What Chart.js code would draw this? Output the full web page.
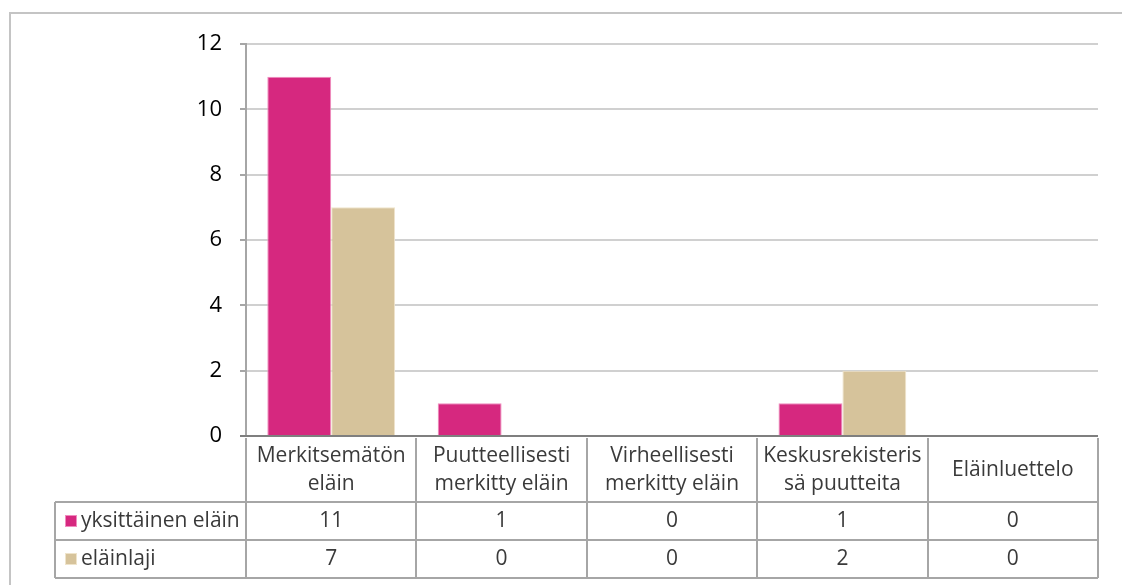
<!DOCTYPE html>
<html>
<head>
<meta charset="utf-8">
<script src="https://cdn.jsdelivr.net/npm/chart.js@4.4.0/dist/chart.umd.min.js"></script>
<style>
    html, body { margin: 0; padding: 0; background: #fff; overflow: hidden; }
    #wrap { position: relative; width: 1122px; height: 585px; overflow: hidden; }
    #frame {
        position: absolute; left: 9px; top: 12px; width: 1200px; height: 700px;
        border-left: 2px solid #c4c4c4; border-top: 2px solid #c4c4c4;
    }
    canvas { position: absolute; left: 0; top: 0; }
</style>
</head>
<body>
<div id="wrap">
    <div id="frame"></div>
    <canvas id="chart" width="1122" height="585"></canvas>
</div>
<script>
const categories = [
    ['Merkitsemätön', 'eläin'],
    ['Puutteellisesti', 'merkitty eläin'],
    ['Virheellisesti', 'merkitty eläin'],
    ['Keskusrekisteris', 'sä puutteita'],
    ['Eläinluettelo']
];
const seriesNames = ['yksittäinen eläin', 'eläinlaji'];
const yksittainen = [11, 1, 0, 1, 0];
const elainlaji = [7, 0, 0, 2, 0];
const yTicks = [0, 2, 4, 6, 8, 10, 12];

const fillColors = ['#d6287f', '#d6c39b'];
const edgeColors = ['#f08cbf', '#efe4cb'];
const FONT = '"Open Sans", sans-serif';

// data table under the plot, columns follow the x scale
const tablePlugin = {
    id: 'dataTable',
    afterDraw(chart) {
        const ctx = chart.ctx;
        const x = chart.scales.x;
        const area = chart.chartArea;
        const n = categories.length;
        const w = x.width / n;
        const headTop = area.bottom + 2;
        const headBottom = 502;
        const rowH = 38;
        const tableLeft = 55;
        const tableRight = x.getPixelForValue(n - 1) + w / 2;
        const tableBottom = headBottom + rowH * seriesNames.length;

        ctx.save();
        ctx.strokeStyle = '#a6a6a6';
        ctx.lineWidth = 2;

        ctx.beginPath();
        for (let i = 0; i <= n; i++) {
            const px = Math.round(x.getPixelForValue(i) - w / 2);
            ctx.moveTo(px, headTop);
            ctx.lineTo(px, tableBottom);
        }
        ctx.moveTo(tableLeft, headBottom);
        ctx.lineTo(tableRight, headBottom);
        ctx.moveTo(tableLeft, headBottom + rowH);
        ctx.lineTo(tableRight, headBottom + rowH);
        ctx.moveTo(tableLeft, tableBottom);
        ctx.lineTo(tableRight, tableBottom);
        ctx.moveTo(tableLeft, headBottom);
        ctx.lineTo(tableLeft, tableBottom);
        ctx.moveTo(tableRight, headTop);
        ctx.lineTo(tableRight, tableBottom);
        ctx.stroke();

        // axis line on top of the table
        ctx.strokeStyle = '#7f7f7f';
        ctx.beginPath();
        ctx.moveTo(area.left - 6, area.bottom);
        ctx.lineTo(area.right, area.bottom);
        ctx.stroke();

        ctx.fillStyle = '#3a3a3a';
        ctx.font = '21px ' + FONT;
        ctx.textAlign = 'center';
        ctx.textBaseline = 'middle';

        categories.forEach((lines, i) => {
            const cx = x.getPixelForValue(i);
            const mid = (headTop + headBottom) / 2;
            const lh = 28;
            lines.forEach((line, j) => {
                const cy = mid + (j - (lines.length - 1) / 2) * lh;
                ctx.fillText(line, cx, cy);
            });
        });

        const values = [yksittainen, elainlaji];
        values.forEach((row, r) => {
            const cy = headBottom + rowH * r + rowH / 2;
            row.forEach((v, i) => {
                ctx.fillText(String(v), x.getPixelForValue(i), cy);
            });
            // legend swatch + name
            ctx.fillStyle = fillColors[r];
            ctx.fillRect(65, cy - 6, 12, 12);
            ctx.strokeStyle = edgeColors[r];
            ctx.lineWidth = 1;
            ctx.strokeRect(65.5, cy - 5.5, 11, 11);
            ctx.fillStyle = '#3a3a3a';
            ctx.textAlign = 'left';
            ctx.fillText(seriesNames[r], 81, cy);
            ctx.textAlign = 'center';
        });

        ctx.restore();
    }
};

new Chart(document.getElementById('chart'), {
    type: 'bar',
    data: {
        labels: categories,
        datasets: [
            {
                label: seriesNames[0],
                data: yksittainen,
                backgroundColor: fillColors[0],
                borderColor: edgeColors[0],
                borderWidth: 1
            },
            {
                label: seriesNames[1],
                data: elainlaji,
                backgroundColor: fillColors[1],
                borderColor: edgeColors[1],
                borderWidth: 1
            }
        ]
    },
    options: {
        responsive: false,
        animation: false,
        layout: {
            padding: { top: 44, right: 24, bottom: 149, left: 0 }
        },
        datasets: {
            bar: { categoryPercentage: 0.75, barPercentage: 1 }
        },
        plugins: {
            legend: { display: false },
            tooltip: { enabled: false }
        },
        scales: {
            x: {
                display: false
            },
            y: {
                min: 0,
                max: 12,
                afterFit: s => { s.width = 246; },
                afterBuildTicks: s => { s.ticks = yTicks.map(v => ({ value: v })); },
                border: { display: true, color: '#a6a6a6', width: 2 },
                grid: { color: '#d0d0d0', lineWidth: 2, tickLength: 6, tickColor: '#a6a6a6' },
                ticks: {
                    padding: 18,
                    color: '#000',
                    font: { family: FONT, size: 22 }
                }
            }
        }
    },
    plugins: [tablePlugin]
});
</script>
</body>
</html>
